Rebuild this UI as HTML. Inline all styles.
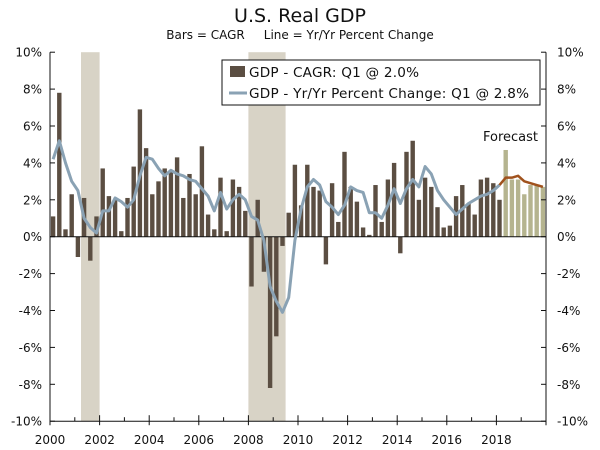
<!DOCTYPE html>
<html><head><meta charset="utf-8"><style>
body{margin:0;background:#fff;}
svg{display:block;font-family:"DejaVu Sans","Liberation Sans",sans-serif;}
</style></head><body>
<svg id="chart" width="600" height="450" viewBox="0 0 600 450">
<text x="300" y="22" text-anchor="middle" font-size="19" fill="#111">U.S. Real GDP</text>
<text x="300" y="39" text-anchor="middle" font-size="12" fill="#111">Bars = CAGR &#160;&#160;&#160;&#160;Line = Yr/Yr Percent Change</text>
<g id="shade"></g><g id="bars"></g><g id="lines"></g><g id="axes"></g>
<g>
<rect x="222" y="60" width="318" height="45" fill="#fff" stroke="#111" stroke-width="1"/>
<rect x="230" y="66" width="15" height="11" fill="#5b4e42"/>
<text x="249" y="77" font-size="13.6" fill="#111" textLength="170">GDP - CAGR: Q1 @ 2.0%</text>
<line x1="229" y1="93" x2="247" y2="93" stroke="#8aa2b4" stroke-width="3"/>
<text x="249" y="98" font-size="13.6" fill="#111" textLength="280">GDP - Yr/Yr Percent Change: Q1 @ 2.8%</text>
</g>
<text x="483" y="141" font-size="13" fill="#111">Forecast</text>
</svg>
<script>
const startYear = 2000;
const cagr = [1.1,7.8,0.4,2.3, -1.1,2.1,-1.3,1.1, 3.7,2.2,2.0,0.3, 2.1,3.8,6.9,4.8,
 2.3,3.0,3.7,3.5, 4.3,2.1,3.4,2.3, 4.9,1.2,0.4,3.2, 0.3,3.1,2.7,1.4,
 -2.7,2.0,-1.9,-8.2, -5.4,-0.5,1.3,3.9, 1.7,3.9,2.7,2.5, -1.5,2.9,0.8,4.6,
 2.7,1.9,0.5,0.1, 2.8,0.8,3.1,4.0, -0.9,4.6,5.2,2.0, 3.2,2.7,1.6,0.5,
 0.6,2.2,2.8,1.8, 1.2,3.1,3.2,2.9, 2.0];
const cagrForecast = [4.7,3.1,3.1,2.3,2.8,2.8,2.7];
const yoy = [4.2,5.2,4.0,3.0, 2.5,1.0,0.5,0.2, 1.4,1.4,2.1,1.9, 1.6,2.0,3.3,4.3,
 4.2,3.7,3.3,3.6, 3.4,3.3,3.1,3.0, 2.6,2.2,1.4,2.4, 1.5,2.0,2.3,2.0,
 1.1,0.9,-0.2,-2.7, -3.5,-4.1,-3.3,-0.2, 1.5,2.7,3.1,2.8, 1.9,1.6,1.2,1.7,
 2.7,2.5,2.4,1.3, 1.3,1.0,1.7,2.6, 1.8,2.6,3.1,2.7, 3.8,3.4,2.5,2.0,
 1.6,1.2,1.5,1.8, 2.0,2.2,2.3,2.5, 2.8];
const yoyForecast = [2.8,3.2,3.2,3.3,3.0,2.9,2.8,2.7];
const recessions = [[2001.25,2002.0],[2008.0,2009.5]];
const yTicks = [-10,-8,-6,-4,-2,0,2,4,6,8,10];
const xTickYears = [2000,2002,2004,2006,2008,2010,2012,2014,2016,2018];

const X0=50,X1=546,Y0=236.7,PPU=18.45;
const yearX = t => X0 + (t-startYear)*(X1-X0)/20;
const qX = i => X0 + (i+0.5)*(X1-X0)/80;
const yS = v => Y0 - v*PPU;
const NS="http://www.w3.org/2000/svg";
function mk(tag, parent, attrs){const e=document.createElementNS(NS,tag);for(const k in attrs)e.setAttribute(k,attrs[k]);document.getElementById(parent).appendChild(e);return e;}

recessions.forEach(r=>{
 const e=mk('rect','shade',{x:yearX(r[0]),y:yS(10),width:yearX(r[1])-yearX(r[0]),height:yS(-10)-yS(10),fill:'#d8d3c6'});
 
 
});
const bw=4.4;
function bar(i,v,color,name){
 const y=Math.min(yS(v),Y0),h=Math.abs(yS(v)-Y0);
 const e=mk('rect','bars',{x:qX(i)-bw/2,y:y,width:bw,height:h,fill:color});
 
 
}
cagr.forEach((v,i)=>bar(i,v,'#5b4e42','bar-cagr'));
cagrForecast.forEach((v,i)=>bar(cagr.length+i,v,'#b5b48f','bar-cagr-forecast'));
const zl=mk('line','lines',{x1:X0,x2:X1,y1:Y0,y2:Y0,stroke:'#111','stroke-width':1});


const p1=mk('polyline','lines',{points:yoy.map((v,i)=>qX(i)+','+yS(v)).join(' '),fill:'none',stroke:'#8aa2b4','stroke-width':3,'stroke-linejoin':'round'});


const off=yoy.length-1;
const p2=mk('polyline','lines',{points:yoyForecast.map((v,i)=>qX(off+i)+','+yS(v)).join(' '),fill:'none',stroke:'#a0521d','stroke-width':2.5,'stroke-linejoin':'round'});



mk('line','axes',{x1:X0,x2:X0,y1:yS(10),y2:yS(-10),stroke:'#111'});
mk('line','axes',{x1:X1,x2:X1,y1:yS(10),y2:yS(-10),stroke:'#111'});
mk('line','axes',{x1:X0,x2:X1,y1:yS(-10),y2:yS(-10),stroke:'#111'});
yTicks.forEach(t=>{
 const y=yS(t);
 mk('line','axes',{x1:X0,x2:X0+5,y1:y,y2:y,stroke:'#111'});
 mk('line','axes',{x1:X1-5,x2:X1,y1:y,y2:y,stroke:'#111'});
 const l=mk('text','axes',{x:X0-8,y:y+4.5,'text-anchor':'end','font-size':12,fill:'#111'});
 l.textContent=t+'%';
 
 
 const r=mk('text','axes',{x:X1+11,y:y+4.5,'text-anchor':'start','font-size':12,fill:'#111'});
 r.textContent=t+'%';
 
 
});
for(let yr=2000;yr<=2020;yr++){
 const x=yearX(yr),major=(yr%2===0);
 mk('line','axes',{x1:x,x2:x,y1:yS(-10)-(major?6:4),y2:yS(-10)+(major?4:0),stroke:'#111'});
}
xTickYears.forEach(yr=>{
 const t=mk('text','axes',{x:yearX(yr),y:444,'text-anchor':'middle','font-size':12,fill:'#111'});
 t.textContent=yr;
 
 
});
</script>
</body></html>
